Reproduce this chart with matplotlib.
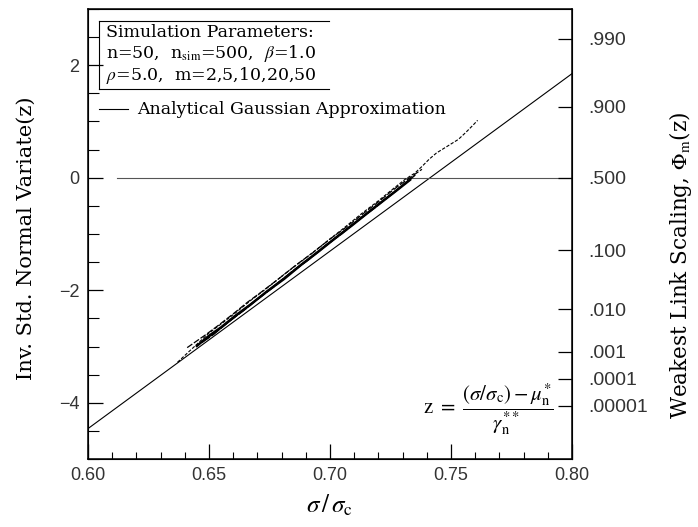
import matplotlib
matplotlib.use("Agg")
import matplotlib.pyplot as plt
from matplotlib.ticker import MultipleLocator, FixedLocator

plt.rcParams["mathtext.fontset"] = "stix"

# ---- data ----
analytic_x = [0.60, 0.80]
analytic_z = [-4.46, 1.85]

zero_x = [0.612, 0.80]
zero_z = [0.0, 0.0]

m2_x = [0.637, 0.640, 0.643, 0.646, 0.650, 0.655, 0.661, 0.667, 0.674, 0.681, 0.689, 0.697,
        0.705, 0.713, 0.720, 0.726, 0.731, 0.735, 0.738, 0.741, 0.744, 0.747, 0.750, 0.753,
        0.756, 0.759, 0.761]
m2_z = [-3.28, -3.16, -3.04, -2.92, -2.76, -2.60, -2.40, -2.19, -1.96, -1.72, -1.46, -1.19,
        -0.92, -0.64, -0.41, -0.20, -0.03, 0.08, 0.20, 0.33, 0.44, 0.52, 0.60, 0.68,
        0.80, 0.93, 1.02]

m5_x = [0.641, 0.645, 0.649, 0.654, 0.660, 0.666, 0.672, 0.679, 0.686, 0.693, 0.700, 0.707,
        0.714, 0.720, 0.726, 0.731, 0.735, 0.738]
m5_z = [-3.02, -2.90, -2.78, -2.62, -2.42, -2.21, -2.02, -1.79, -1.55, -1.33, -1.09, -0.87,
        -0.63, -0.43, -0.22, -0.06, 0.06, 0.15]

m10_x = [0.645, 0.650, 0.655, 0.661, 0.667, 0.674, 0.681, 0.688, 0.695, 0.702, 0.709, 0.716,
         0.722, 0.728, 0.733]
m10_z = [-2.99, -2.81, -2.66, -2.45, -2.26, -2.02, -1.80, -1.55, -1.32, -1.08, -0.85, -0.61,
         -0.41, -0.21, -0.04]

m20_x = [0.647, 0.652, 0.658, 0.664, 0.670, 0.677, 0.684, 0.691, 0.698, 0.705, 0.712, 0.718,
         0.724, 0.729, 0.734]
m20_z = [-2.93, -2.78, -2.56, -2.37, -2.16, -1.93, -1.68, -1.46, -1.21, -0.99, -0.74, -0.55,
         -0.34, -0.17, 0.00]

m50_x = [0.649, 0.654, 0.660, 0.666, 0.672, 0.679, 0.686, 0.693, 0.700, 0.707, 0.714, 0.720,
         0.726, 0.731, 0.735]
m50_z = [-2.86, -2.70, -2.50, -2.29, -2.09, -1.85, -1.62, -1.39, -1.15, -0.91, -0.68, -0.47,
         -0.28, -0.10, 0.04]

prob_z = [2.47, 1.26, 0.0, -1.29, -2.34, -3.09, -3.57, -4.05]
prob_labels = [".990", ".900", ".500", ".100", ".010", ".001", ".0001", ".00001"]

x_ticks = [0.60, 0.65, 0.70, 0.75, 0.80]
x_ticklabels = ["0.60", "0.65", "0.70", "0.75", "0.80"]
y_ticks = [-4, -2, 0, 2]
y_ticklabels = ["\u22124", "\u22122", "0", "2"]

# ---- figure ----
fig = plt.figure(figsize=(6.98, 5.27), dpi=100)
ax = fig.add_axes([0.126, 0.129, 0.6935, 0.854])

ax.plot(analytic_x, analytic_z, color="black", lw=0.8)
ax.plot(zero_x, zero_z, color="#555555", lw=0.8)
ax.plot(m2_x, m2_z, color="black", lw=0.8, ls=(0, (3, 1.5)))
ax.plot(m5_x, m5_z, color="black", lw=0.9, ls=(0, (5, 1.5)))
ax.plot(m10_x, m10_z, color="black", lw=1.8)
ax.plot(m20_x, m20_z, color="black", lw=1.2, ls=(0, (6, 1)))
ax.plot(m50_x, m50_z, color="black", lw=1.1)

ax.set_xlim(0.6, 0.8)
ax.set_ylim(-5, 3)

tick_font = dict(family="Liberation Sans", size=13)
ax.set_xticks(x_ticks)
ax.set_xticklabels(x_ticklabels, fontdict=tick_font, color="#333333")
ax.set_yticks(y_ticks)
ax.set_yticklabels(y_ticklabels, fontdict=tick_font, color="#333333")
ax.xaxis.set_minor_locator(MultipleLocator(0.01))
ax.yaxis.set_minor_locator(MultipleLocator(0.5))
ax.tick_params(which="both", direction="in", top=False, right=False)
ax.tick_params(which="major", length=11, width=0.9, pad=6)
ax.tick_params(axis="x", which="minor", length=5, width=0.8)
ax.tick_params(axis="y", which="minor", length=8, width=0.8)
for s in ax.spines.values():
    s.set_linewidth(1.1)

serif = "DejaVu Serif"
ax.set_xlabel(r"$\sigma\,/\,\sigma_{\rm c}$", fontsize=18, labelpad=6)
ax.set_ylabel("Inv. Std. Normal Variate(z)", family=serif, fontsize=15)
ax.yaxis.set_label_coords(-0.108, 0.49)

ax2 = ax.twinx()
ax2.set_ylim(-5, 3)
ax2.yaxis.set_major_locator(FixedLocator(prob_z))
ax2.set_yticklabels(prob_labels, family="Liberation Sans", size=14, color="#333333")
ax2.tick_params(which="both", direction="in", length=10, width=0.9, pad=12)
ax2.set_ylabel("Weakest Link Scaling, $\\Phi_{\\rm m}$(z)", family=serif, fontsize=15.5)
ax2.yaxis.set_label_coords(1.196, 0.43)

# parameter box
ax.plot([0.6045, 0.6995], [2.79, 2.79], color="black", lw=0.8)
ax.plot([0.6045, 0.6995], [1.57, 1.57], color="black", lw=0.8)
ax.plot([0.6045, 0.6045], [1.57, 2.79], color="black", lw=0.8)
ax.text(0.6075, 2.59, "Simulation Parameters:", family=serif, fontsize=12.5, va="center")
ax.text(0.6075, 2.20, "n=50,  n$_{\\rm sim}$=500,  $\\beta$=1.0", family=serif,
        fontsize=12.5, va="center")
ax.text(0.6075, 1.81, "$\\rho$=5.0,  m=2,5,10,20,50", family=serif, fontsize=12.5,
        va="center")

# legend line
ax.plot([0.6045, 0.6165], [1.22, 1.22], color="black", lw=0.8)
ax.text(0.6205, 1.22, "Analytical Gaussian Approximation", family=serif, fontsize=12.5,
        va="center")

# formula
ax.text(0.7385, -4.12,
        r"$\mathrm{z}\ =\ \dfrac{(\sigma/\sigma_{\rm c})-\mu_{\rm n}^{*}}{\gamma_{\rm n}^{**}}$",
        fontsize=15, va="center")

fig.savefig("out.png", dpi=100)
